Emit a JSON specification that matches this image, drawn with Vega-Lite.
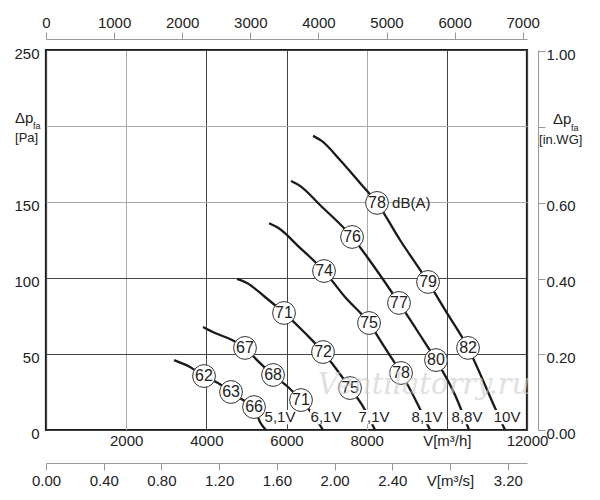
{
  "$schema": "https://vega.github.io/schema/vega-lite/v6.json",
  "autosize": {"type": "none"},
  "width": 481,
  "height": 380,
  "padding": {"left": 46, "top": 50, "right": 73, "bottom": 70},
  "background": "white",
  "config": {
    "view": {"stroke": "#1a1a1a", "strokeWidth": 2.2},
    "axis": {"labelFont": "Liberation Sans", "labelFontSize": 15, "labelColor": "#222222", "titleFont": "Liberation Sans"},
    "text": {"font": "Liberation Sans"}
  },
  "datasets": {
    "curves": [
      {"v": "5,1V", "q": 3194, "p": 46}, {"v": "5,1V", "q": 3593, "p": 41.5}, {"v": "5,1V", "q": 3942, "p": 35.5}, {"v": "5,1V", "q": 4291, "p": 30.9}, {"v": "5,1V", "q": 4616, "p": 25}, {"v": "5,1V", "q": 4915, "p": 19.7}, {"v": "5,1V", "q": 5190, "p": 15.1}, {"v": "5,1V", "q": 5339, "p": 5.3}, {"v": "5,1V", "q": 5489, "p": 0},
      {"v": "6,1V", "q": 3917, "p": 67.8}, {"v": "6,1V", "q": 4217, "p": 63.8}, {"v": "6,1V", "q": 4641, "p": 59.2}, {"v": "6,1V", "q": 4965, "p": 54}, {"v": "6,1V", "q": 5264, "p": 46}, {"v": "6,1V", "q": 5664, "p": 36.2}, {"v": "6,1V", "q": 6038, "p": 28.3}, {"v": "6,1V", "q": 6362, "p": 19.7}, {"v": "6,1V", "q": 6662, "p": 9.9}, {"v": "6,1V", "q": 6911, "p": 0},
      {"v": "7,1V", "q": 4765, "p": 99.4}, {"v": "7,1V", "q": 5015, "p": 96.7}, {"v": "7,1V", "q": 5464, "p": 87.5}, {"v": "7,1V", "q": 5938, "p": 77}, {"v": "7,1V", "q": 6462, "p": 63.8}, {"v": "7,1V", "q": 6911, "p": 51.3}, {"v": "7,1V", "q": 7260, "p": 39.5}, {"v": "7,1V", "q": 7585, "p": 27.6}, {"v": "7,1V", "q": 7884, "p": 16.5}, {"v": "7,1V", "q": 8209, "p": 0},
      {"v": "8,1V", "q": 5564, "p": 136}, {"v": "8,1V", "q": 5789, "p": 133}, {"v": "8,1V", "q": 6337, "p": 119.8}, {"v": "8,1V", "q": 6936, "p": 104.6}, {"v": "8,1V", "q": 7460, "p": 87.5}, {"v": "8,1V", "q": 8059, "p": 70.4}, {"v": "8,1V", "q": 8458, "p": 54}, {"v": "8,1V", "q": 8857, "p": 37.5}, {"v": "8,1V", "q": 9282, "p": 16.5}, {"v": "8,1V", "q": 9581, "p": 0},
      {"v": "8,8V", "q": 6113, "p": 163.8}, {"v": "8,8V", "q": 6337, "p": 160.6}, {"v": "8,8V", "q": 6836, "p": 148}, {"v": "8,8V", "q": 7635, "p": 127}, {"v": "8,8V", "q": 8209, "p": 106.6}, {"v": "8,8V", "q": 8807, "p": 83.6}, {"v": "8,8V", "q": 9331, "p": 62.5}, {"v": "8,8V", "q": 9730, "p": 46}, {"v": "8,8V", "q": 10205, "p": 23}, {"v": "8,8V", "q": 10554, "p": 0},
      {"v": "10V", "q": 6662, "p": 193.5}, {"v": "10V", "q": 6886, "p": 190}, {"v": "10V", "q": 7335, "p": 177.6}, {"v": "10V", "q": 7834, "p": 162.5}, {"v": "10V", "q": 8258, "p": 149.4}, {"v": "10V", "q": 8832, "p": 125}, {"v": "10V", "q": 9531, "p": 97.4}, {"v": "10V", "q": 9955, "p": 79}, {"v": "10V", "q": 10529, "p": 54}, {"v": "10V", "q": 11203, "p": 14.5}, {"v": "10V", "q": 11452, "p": 0}
    ],
    "circles": [
      {"q": 3942, "p": 35.5, "db": "62"}, {"q": 4616, "p": 25, "db": "63"}, {"q": 5190, "p": 15.1, "db": "66"},
      {"q": 4965, "p": 54, "db": "67"}, {"q": 5664, "p": 36.2, "db": "68"}, {"q": 6362, "p": 19.7, "db": "71"},
      {"q": 5938, "p": 77, "db": "71"}, {"q": 6911, "p": 51.3, "db": "72"}, {"q": 7585, "p": 27.6, "db": "75"},
      {"q": 6936, "p": 104.6, "db": "74"}, {"q": 8059, "p": 70.4, "db": "75"}, {"q": 8857, "p": 37.5, "db": "78"},
      {"q": 7635, "p": 127, "db": "76"}, {"q": 8807, "p": 83.6, "db": "77"}, {"q": 9730, "p": 46, "db": "80"},
      {"q": 8258, "p": 149.4, "db": "78"}, {"q": 9531, "p": 97.4, "db": "79"}, {"q": 10529, "p": 54, "db": "82"}
    ],
    "vlabels": [
      {"q": 5838, "p": 8.5, "t": "5,1V"}, {"q": 6986, "p": 8.5, "t": "6,1V"}, {"q": 8184, "p": 8.5, "t": "7,1V"},
      {"q": 9506, "p": 8.5, "t": "8,1V"}, {"q": 10504, "p": 8.5, "t": "8,8V"}, {"q": 11502, "p": 8.5, "t": "10V"}
    ],
    "dba": [{"q": 8633, "p": 149.4, "t": "dB(A)"}],
    "delta": [{"q": -773, "p": 205.3, "t": "Δp"}, {"q": 12650, "p": 204.3, "t": "Δp"}],
    "sub": [{"q": -324, "p": 200, "t": "fa"}, {"q": 13099, "p": 198.7, "t": "fa"}],
    "units": [{"q": -773, "p": 191.8, "t": "[Pa]"}, {"q": 12300, "p": 190.8, "t": "[in.WG]"}],
    "mark": [{"q": 9431, "p": 29.6, "t": "Ventilatorry.ru"}]
  },
  "layer": [
    {
      "encoding": {
        "x": {"field": "q", "type": "quantitative", "scale": {"domain": [0, 12000], "nice": false, "zero": false},
          "axis": {"orient": "bottom", "title": null, "values": [0, 2000, 4000, 6000, 8000, 10000, 12000], "format": "d",
            "labelExpr": "datum.value == 0 ? '' : datum.value == 10000 ? 'V[m³/h]' : datum.label",
            "ticks": false, "tickSize": 0, "domain": false, "labelPadding": 3, "labelFlush": false,
            "grid": true, "gridWidth": 1,
            "gridColor": {"condition": {"test": "datum.value == 2000 || datum.value == 8000", "value": "#aaaaaa"}, "value": "#444444"}}},
        "y": {"field": "p", "type": "quantitative", "scale": {"domain": [0, 250], "nice": false, "zero": false},
          "axis": {"orient": "left", "title": null, "values": [0, 50, 100, 150, 200, 250],
            "labelExpr": "datum.value == 200 ? '' : datum.label",
            "ticks": false, "tickSize": 0, "domain": false, "labelPadding": 7, "labelOffset": 3,
            "grid": true, "gridWidth": 1,
            "gridColor": {"condition": {"test": "datum.value == 150 || datum.value == 200", "value": "#aaaaaa"}, "value": "#444444"}}}
      },
      "layer": [
        {"data": {"name": "curves"}, "mark": {"type": "line", "interpolate": "monotone", "stroke": "#1a1a1a", "strokeWidth": 2.3},
          "encoding": {"detail": {"field": "v"}}},
        {"data": {"name": "vlabels"}, "mark": {"type": "point", "shape": "M-1,-0.45H1V0.45H-1Z", "filled": true, "fill": "white", "stroke": null, "opacity": 1, "size": 1024}},
        {"data": {"name": "vlabels"}, "mark": {"type": "text", "fontSize": 15, "color": "#222222", "baseline": "middle", "align": "center"},
          "encoding": {"text": {"field": "t"}}},
        {"data": {"name": "circles"}, "mark": {"type": "point", "shape": "circle", "filled": true, "fill": "white", "stroke": "#333333", "strokeWidth": 1, "opacity": 1, "size": 520}},
        {"data": {"name": "circles"}, "mark": {"type": "text", "fontSize": 16, "color": "#222222", "baseline": "middle", "align": "center"},
          "encoding": {"text": {"field": "db"}}},
        {"data": {"name": "dba"}, "mark": {"type": "text", "fontSize": 15, "color": "#222222", "baseline": "middle", "align": "left"},
          "encoding": {"text": {"field": "t"}}},
        {"data": {"name": "delta"}, "mark": {"type": "text", "fontSize": 15, "color": "#222222", "baseline": "middle", "align": "left"},
          "encoding": {"text": {"field": "t"}}},
        {"data": {"name": "sub"}, "mark": {"type": "text", "fontSize": 9, "color": "#222222", "baseline": "middle", "align": "left"},
          "encoding": {"text": {"field": "t"}}},
        {"data": {"name": "units"}, "mark": {"type": "text", "fontSize": 13, "color": "#222222", "baseline": "middle", "align": "left"},
          "encoding": {"text": {"field": "t"}}},
        {"data": {"name": "mark"}, "mark": {"type": "text", "font": "DejaVu Serif", "fontStyle": "italic", "fontSize": 29, "color": "#cccccc", "opacity": 0.6, "baseline": "middle", "align": "center"},
          "encoding": {"text": {"field": "t"}}}
      ]
    },
    {
      "data": {"values": [{"cfm": 0}, {"cfm": 7000}]},
      "mark": {"type": "point", "opacity": 0},
      "encoding": {
        "x": {"field": "cfm", "type": "quantitative", "scale": {"domain": [0, 7063], "nice": false, "zero": false},
          "axis": {"orient": "top", "offset": 11, "title": null, "values": [0, 1000, 2000, 3000, 4000, 5000, 6000, 7000], "format": "d",
            "tickSize": 7, "tickColor": "#999999", "domainColor": "#999999", "labelPadding": 2, "labelFlush": false, "grid": false}}
      }
    },
    {
      "data": {"values": [{"m3s": 0}, {"m3s": 3.2}]},
      "mark": {"type": "point", "opacity": 0},
      "encoding": {
        "x": {"field": "m3s", "type": "quantitative", "scale": {"domain": [0, 3.3333], "nice": false, "zero": false},
          "axis": {"orient": "bottom", "offset": 33, "title": null, "values": [0, 0.4, 0.8, 1.2, 1.6, 2.0, 2.4, 2.8, 3.2],
            "labelExpr": "datum.value > 2.7 && datum.value < 2.9 ? 'V[m³/s]' : format(datum.value, '.2f')",
            "tickSize": 7, "tickColor": "#999999", "domainColor": "#999999", "labelPadding": 3, "labelFlush": false, "grid": false}}
      }
    },
    {
      "data": {"values": [{"wg": 0}, {"wg": 1}]},
      "mark": {"type": "point", "opacity": 0},
      "encoding": {
        "y": {"field": "wg", "type": "quantitative", "scale": {"domain": [0, 1.00365], "nice": false, "zero": false},
          "axis": {"orient": "right", "offset": 11, "title": null, "values": [0, 0.2, 0.4, 0.6, 0.8, 1.0],
            "labelExpr": "datum.value > 0.7 && datum.value < 0.9 ? '' : format(datum.value, '.2f')",
            "tickSize": 7, "tickColor": "#999999", "domainColor": "#999999", "labelPadding": 1, "labelOffset": 3, "grid": false}}
      }
    }
  ],
  "resolve": {"scale": {"x": "independent", "y": "independent"}}
}
